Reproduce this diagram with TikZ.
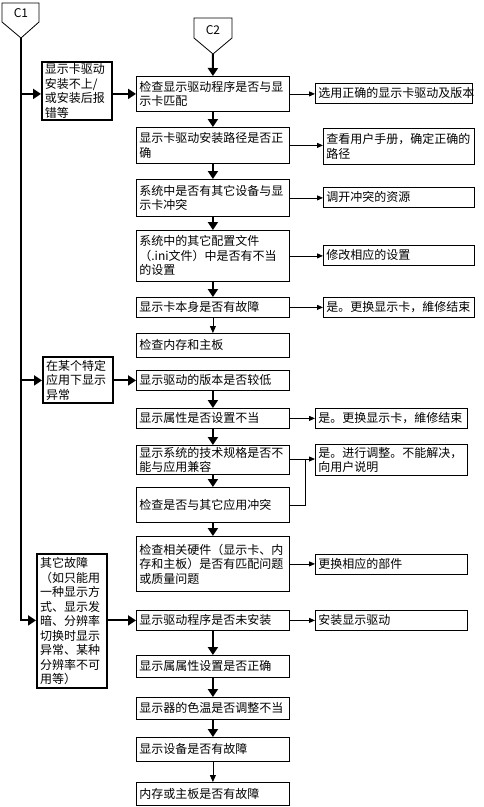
\documentclass[tikz,border=0pt]{standalone}
\usepackage{fontspec}
\setmainfont{Noto Sans CJK SC}
\usetikzlibrary{arrows.meta, positioning}
\tikzset{>=Triangle}

\begin{document}
\begin{tikzpicture}[x=1pt, y=-1pt,
    font=\fontsize{12pt}{14.5pt}\selectfont,
    box/.style={draw, anchor=north west, align=left, inner xsep=3pt, inner ysep=1pt, line width=0.8pt},
    mbox/.style={box, text width=147pt},
    rbox/.style={box, text width=146pt},
    lbox/.style={box, line width=2pt, text width=64pt},
    down/.style={-{Triangle[length=8pt,width=10pt]}, line width=2pt},
    thindown/.style={-{Triangle[length=7pt,width=6pt]}, line width=0.8pt},
    side/.style={-{Triangle[length=6pt,width=5pt]}, line width=0.8pt}]
    \useasboundingbox (0,0) rectangle (483,807);

    % off-page connectors
    \draw[line width=0.8pt] (2,3) -- (39,3) -- (39,22) -- (21,38) -- (2,22) -- cycle;
    \node (c1) at (21,13) {C1};
    \coordinate (c1tip) at (21,38);
    \draw[line width=0.8pt] (194,18) -- (232,18) -- (232,38) -- (213,54) -- (194,38) -- cycle;
    \node (c2) at (213,30) {C2};
    \coordinate (c2tip) at (213,54);

    % left column
    \node[lbox, minimum height=58pt] (a) at (41,61) {显示卡驱动\\安装不上/\\或安装后报\\错等};
    \node[lbox, minimum height=46pt] (b) at (42,356) {在某个特定\\应用下显示\\异常};
    \node[lbox, minimum height=134pt] (c) at (36,553) {其它故障\\（如只能用\\一种显示方\\式、显示发\\暗、分辨率\\切换时显示\\异常、某种\\分辨率不可\\用等）};

    % main column
    \node[mbox, minimum height=35pt] (m1) at (136,76) {检查显示驱动程序是否与显\\示卡匹配};
    \node[mbox, minimum height=36pt] (m2) at (136,127) {显示卡驱动安装路径是否正\\确};
    \node[mbox, minimum height=37pt] (m3) at (136,179) {系统中是否有其它设备与显\\示卡冲突};
    \node[mbox, minimum height=51pt] (m4) at (136,230) {系统中的其它配置文件\\（.ini文件）中是否有不当\\的设置};
    \node[mbox, minimum height=20pt] (m5) at (136,297) {显示卡本身是否有故障};
    \node[mbox, minimum height=24pt] (m6) at (136,333) {检查内存和主板};
    \node[mbox, minimum height=20pt] (m7) at (136,370) {显示驱动的版本是否较低};
    \node[mbox, minimum height=20pt] (m8) at (136,408) {显示属性是否设置不当};
    \node[mbox, minimum height=29pt] (m9) at (136,445) {显示系统的技术规格是否不\\能与应用兼容};
    \node[mbox, minimum height=35pt] (m10) at (136,487) {检查是否与其它应用冲突};
    \node[mbox, minimum height=55pt] (m11) at (136,536) {检查相关硬件（显示卡、内\\存和主板）是否有匹配问题\\或质量问题};
    \node[mbox, minimum height=20pt] (m12) at (136,610) {显示驱动程序是否未安装};
    \node[mbox, minimum height=22pt] (m13) at (136,655) {显示属属性设置是否正确};
    \node[mbox, minimum height=22pt] (m14) at (136,697) {显示器的色温是否调整不当};
    \node[mbox, minimum height=24pt] (m15) at (136,737) {显示设备是否有故障};
    \node[mbox, minimum height=23pt] (m16) at (136,782) {内存或主板是否有故障};

    % right column
    \node[rbox, text width=151pt, minimum height=20pt] (r1) at (315,83) {选用正确的显示卡驱动及版本};
    \node[rbox, text width=145pt, minimum height=36pt] (r2) at (323,128) {查看用户手册，确定正确的\\路径};
    \node[rbox, text width=145pt, minimum height=20pt] (r3) at (323,187) {调开冲突的资源};
    \node[rbox, text width=145pt, minimum height=20pt] (r4) at (323,245) {修改相应的设置};
    \node[rbox, text width=145pt, minimum height=20pt] (r5) at (323,297) {是。更换显示卡，維修结束};
    \node[rbox, minimum height=20pt] (r8) at (315,408) {是。更换显示卡，維修结束};
    \node[rbox, minimum height=31pt] (r9) at (315,444) {是。进行调整。不能解决，\\向用户说明};
    \node[rbox, minimum height=20pt] (r11) at (315,554) {更换相应的部件};
    \node[rbox, minimum height=20pt] (r12) at (315,610) {安装显示驱动};
    \coordinate (j9) at (305,459);

    % C1 trunk and branches
    \draw[down] (c1tip) |- (c.west |- m12.west);
    \draw[down] (c1tip |- m1.west) -- (a.west |- m1.west);
    \draw[down] (c1tip |- m7.west) -- (b.west |- m7.west);
    \draw[down] (a.east |- m1.west) -- (m1.west);
    \draw[down] (b.east |- m7.west) -- (m7.west);
    \draw[down] (c.east |- m12.west) -- (m12.west);

    % down the main column
    \draw[down] (c2tip) -- (m1.north);
    \draw[down] (m1.south) -- (m2.north);
    \draw[down] (m2.south) -- (m3.north);
    \draw[down] (m3.south) -- (m4.north);
    \draw[down] (m4.south) -- (m5.north);
    \draw[thindown] (m5.south) -- (m6.north);
    \draw[down] (m7.south) -- (m8.north);
    \draw[down] (m8.south) -- (m9.north);
    \draw[down] (m9.south) -- (m10.north);
    \draw[down] (m10.south) -- (m11.north);
    \draw[down] (m12.south) -- (m13.north);
    \draw[down] (m13.south) -- (m14.north);
    \draw[down] (m14.south) -- (m15.north);
    \draw[thindown] (m15.south) -- (m16.north);

    % to the right
    \draw[side] (m1.east) -- (m1.east -| r1.west);
    \draw[side] (m2.east) -- (m2.east -| r2.west);
    \draw[side] (m3.east) -- (m3.east -| r3.west);
    \draw[side] (m4.east) -- (m4.east -| r4.west);
    \draw[side] (m5.east) -- (m5.east -| r5.west);
    \draw[side] (m8.east) -- (m8.east -| r8.west);
    \draw[side] (m9.east |- j9) -- (r9.west |- j9);
    \draw[line width=0.8pt] (m10.east) -| (j9);
    \draw[side] (m11.east) -- (m11.east -| r11.west);
    \draw[side] (m12.east) -- (m12.east -| r12.west);
\end{tikzpicture}
\end{document}
